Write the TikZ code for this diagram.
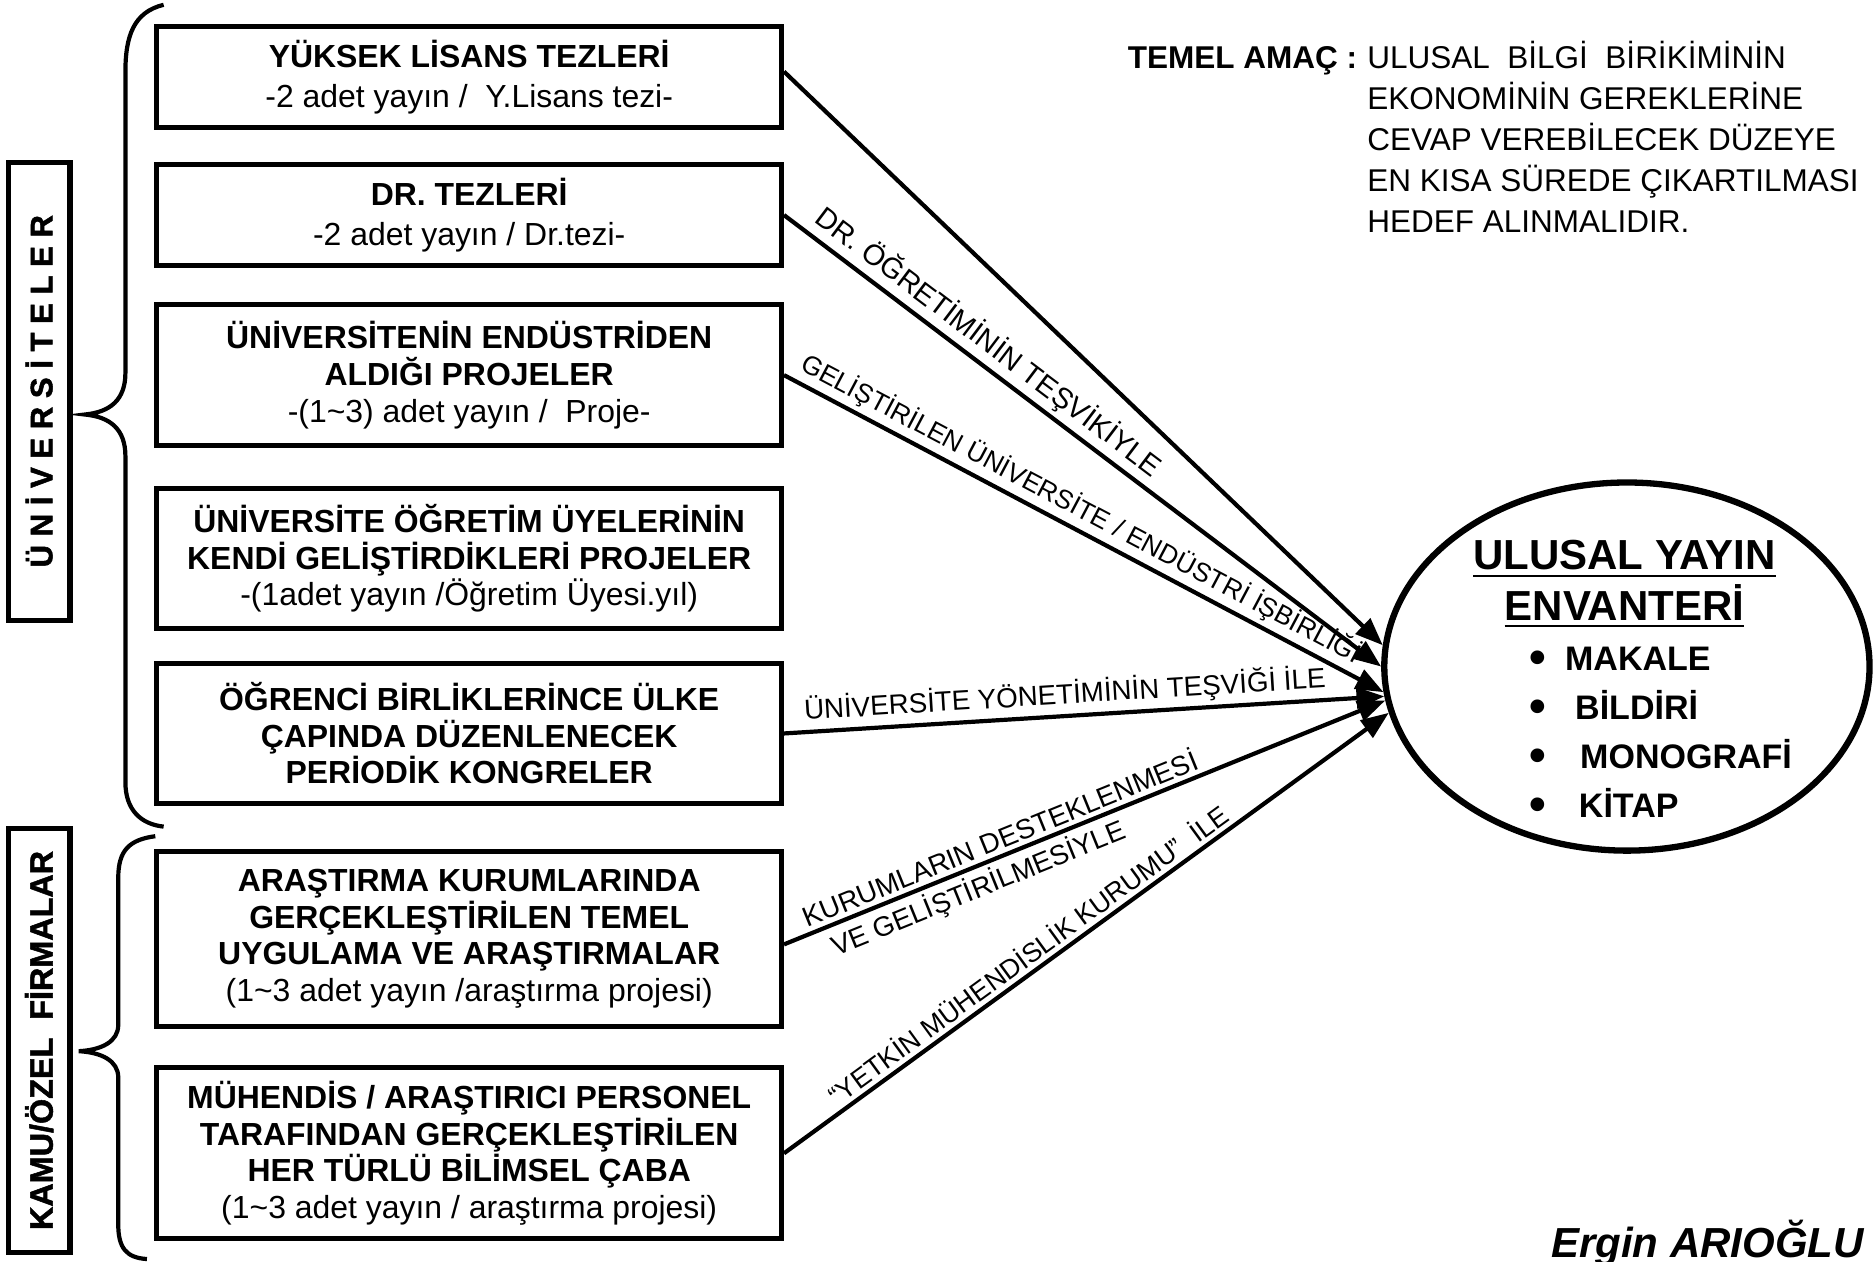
\documentclass[tikz,border=0pt]{standalone}
\usepackage{fontspec}
\setmainfont{Liberation Sans}
\newfontfamily\sidefont[RawFeature={embolden=1.6}]{Liberation Sans Bold}
\usepackage{tikz}
\usetikzlibrary{shapes,arrows.meta,positioning}
\newcommand{\itm}[2]{\makebox[#1][l]{\raisebox{-0.1em}{\scalebox{1.4}{•}}}#2}
\newcommand{\tl}{\textasciitilde}

\begin{document}
\begin{tikzpicture}[x=0.01cm,y=-0.01cm,
  box/.style={draw,line width=1.2pt,rectangle,minimum width=5.225cm,inner sep=0pt,align=center,font=\fontsize{7.6}{8.7}\selectfont},
  side/.style={draw,line width=1.2pt,rectangle,minimum height=0.516cm,inner sep=0pt,rotate=90,font=\sidefont\fontsize{7.4}{8}\selectfont},
  brc/.style={line width=1pt},
  arr/.style={line width=1pt,-{Triangle[length=6.6pt,width=5pt]}},
  lbl/.style={font=\fontsize{6.6}{7.5}\selectfont,sloped,inner sep=1pt},
  inv/.style={draw,ellipse,line width=1.5pt,minimum width=4.06cm,minimum height=3.08cm,inner sep=0pt}]
\useasboundingbox (0,0) rectangle (1568,1056);

\node[box,minimum height=0.85cm] (b1) at (392.8,64.5) {\textbf{YÜKSEK LİSANS TEZLERİ}\\[1pt]-2 adet yayın /\ \ Y.Lisans tezi-};
\node[box,minimum height=0.85cm] (b2) at (392.8,180) {\textbf{DR. TEZLERİ}\\[1pt]-2 adet yayın / Dr.tezi-};
\node[box,minimum height=1.18cm] (b3) at (392.8,314) {\textbf{ÜNİVERSİTENİN ENDÜSTRİDEN}\\\textbf{ALDIĞI PROJELER}\\-(1\tl3) adet yayın /\ \ Proje-};
\node[box,minimum height=1.17cm] (b4) at (392.8,467.5) {\textbf{ÜNİVERSİTE ÖĞRETİM ÜYELERİNİN}\\\textbf{KENDİ GELİŞTİRDİKLERİ PROJELER}\\-(1adet yayın /Öğretim Üyesi.yıl)};
\node[box,minimum height=1.165cm] (b5) at (392.8,614) {\textbf{ÖĞRENCİ BİRLİKLERİNCE ÜLKE}\\\textbf{ÇAPINDA DÜZENLENECEK}\\\textbf{PERİODİK KONGRELER}};
\node[box,minimum height=1.46cm] (b6) at (392.8,786) {\textbf{ARAŞTIRMA KURUMLARINDA}\\\textbf{GERÇEKLEŞTİRİLEN TEMEL}\\\textbf{UYGULAMA VE ARAŞTIRMALAR}\\(1\tl3 adet yayın /araştırma projesi)};
\node[box,minimum height=1.43cm] (b7) at (392.8,965.5) {\textbf{MÜHENDİS / ARAŞTIRICI PERSONEL}\\\textbf{TARAFINDAN GERÇEKLEŞTİRİLEN}\\\textbf{HER TÜRLÜ BİLİMSEL ÇABA}\\(1\tl3 adet yayın / araştırma projesi)};

\node[side,minimum width=3.83cm] (univ) at (32.8,327.5) {Ü N İ V E R S İ T E L E R};
\node[side,minimum width=3.55cm,font=\sidefont\fontsize{7.7}{8}\selectfont] (kamu) at (32.8,871) {KAMU/ÖZEL\ \ FİRMALAR};

\draw[brc] (137,4) .. controls (112,10) and (105,30) .. (105,60) -- (105,312) .. controls (105,335) and (92,345) .. (71,347) .. controls (92,349) and (105,359) .. (105,382) -- (105,655) .. controls (105,678) and (118,690) .. (137,692);
\draw[brc] (130,700) .. controls (108,703) and (99,712) .. (99,735) -- (99,858) .. controls (99,872) and (85,879) .. (66,880) .. controls (85,881) and (99,888) .. (99,902) -- (99,1025) .. controls (99,1045) and (106,1053) .. (123,1054);

\node[inv] (env) at (1362,558) {};
\node[anchor=base,inner sep=0pt,font=\bfseries\fontsize{10}{11.95}\selectfont] (envt) at (1360,477) {\parbox[t]{4cm}{\centering\underline{ULUSAL YAYIN}\\\underline{ENVANTERİ}}};
\node[anchor=base west,inner sep=0pt,font=\bfseries\fontsize{8.1}{11.7}\selectfont] (envl) at (1280,561) {\parbox[t]{3cm}{\itm{8.4pt}{MAKALE}\\\itm{10.8pt}{BİLDİRİ}\\\itm{12pt}{MONOGRAFİ}\\\itm{11.7pt}{KİTAP}}};

\node[anchor=base west,inner sep=0pt,font=\bfseries\fontsize{7.5}{9.8}\selectfont] (amac) at (943.5,57) {TEMEL AMAÇ :};
\node[anchor=base west,inner sep=0pt,font=\fontsize{7.5}{9.8}\selectfont] (amact) at (1144,57) {\parbox[t]{4.3cm}{ULUSAL\ \ BİLGİ\ \ BİRİKİMİNİN\\EKONOMİNİN GEREKLERİNE\\CEVAP VEREBİLECEK DÜZEYE\\EN KISA SÜREDE ÇIKARTILMASI\\HEDEF ALINMALIDIR.}};

\node[anchor=base east,inner sep=0pt,font=\bfseries\itshape\fontsize{10}{12}\selectfont] (ergin) at (1561,1053) {Ergin ARIOĞLU};

\draw[arr] (b1.1) -- (env.175);
\draw[arr] (b2.east) -- node[lbl,above,pos=0.32,font=\fontsize{6.9}{7.5}\selectfont] (l2) {DR. ÖĞRETİMİNİN TEŞVİKİYLE} (env.180);
\draw[arr] (b3.east) -- node[lbl,above,pos=0.48,font=\fontsize{6.3}{7.5}\selectfont] (l3) {GELİŞTİRİLEN ÜNİVERSİTE / ENDÜSTRİ İŞBİRLİĞİ} (env.186);
\draw[arr] (b5.east) -- node[lbl,above,pos=0.47] (l4) {ÜNİVERSİTE YÖNETİMİNİN TEŞVİĞİ İLE} (env.187);
\draw[arr] (b6.-1) -- node[lbl,above,pos=0.37] (l5) {KURUMLARIN DESTEKLENMESİ} node[lbl,below,pos=0.31] (l5b) {VE GELİŞTİRİLMESİYLE} (env.188);
\draw[arr] (b7.east) -- node[lbl,above,pos=0.42,font=\fontsize{6.4}{7.5}\selectfont] (l6) {“YETKİN MÜHENDİSLİK KURUMU”\ \ İLE} (env.191);
\end{tikzpicture}
\end{document}
